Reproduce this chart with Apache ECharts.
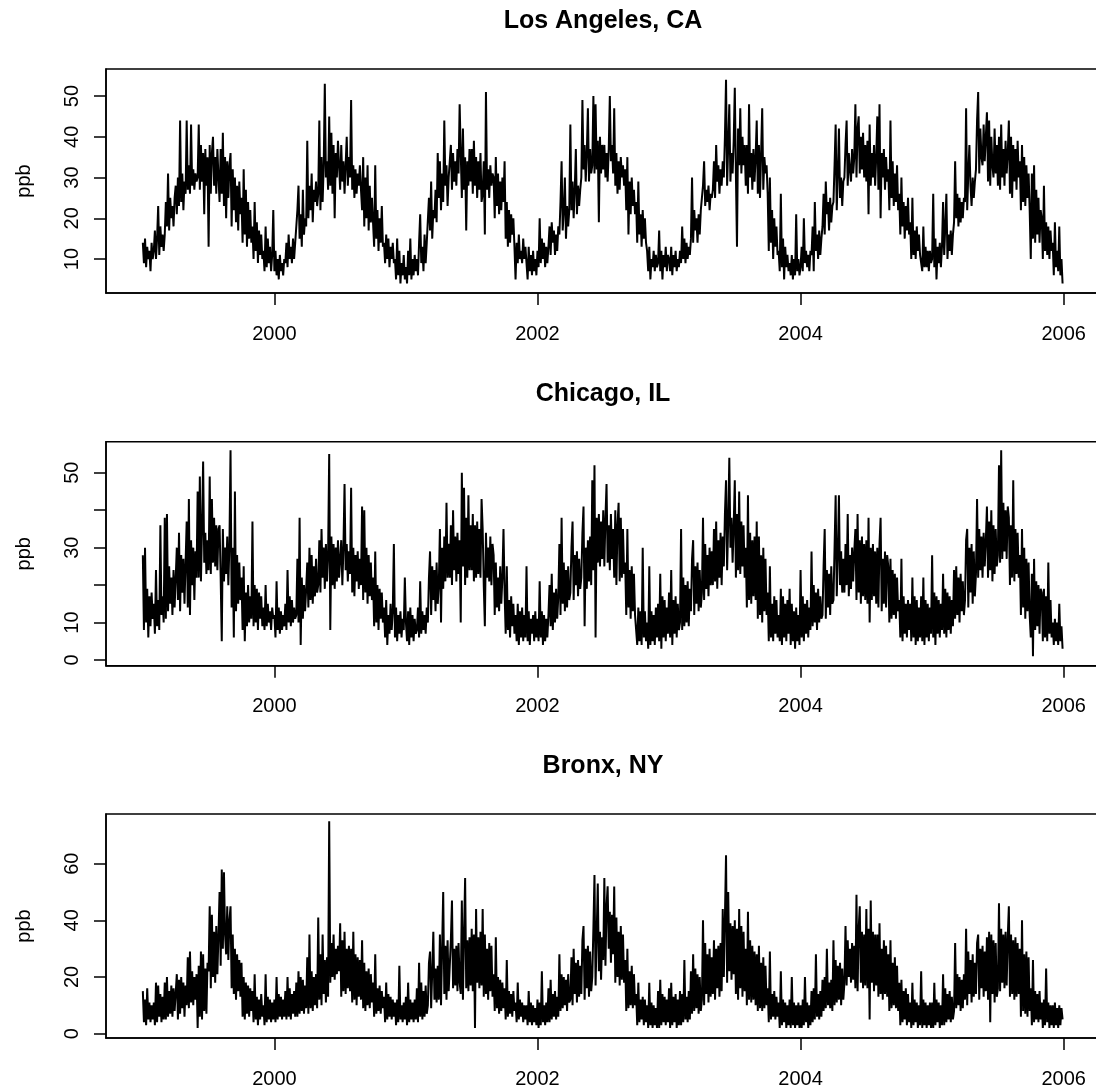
<!DOCTYPE html>
<html>
<head>
<meta charset="utf-8">
<script src="https://cdn.jsdelivr.net/npm/echarts@6/dist/echarts.min.js"></script>
<style>
	html, body { margin: 0; padding: 0; background: #fff; }
	#chart { width: 1096px; height: 1086px; }
</style>
</head>
<body>
<div id="chart"></div>
<script>
// ozone (ppb), 10 values per month, Jan 1999 - Dec 2005, one line per year
const losAngeles = [
	14,9,15,8,13,10,12,7,14,10, 12,17,10,15,23,11,18,13,16,12, 16,24,18,31,17,25,20,23,18,25, 28,21,30,23,44,24,31,22,29,26, 44,27,33,26,43,28,32,27,31,29, 30,43,27,38,29,36,21,37,28,35, 13,38,26,36,40,28,35,26,37,30, 24,37,26,41,23,35,20,34,25,33, 36,18,32,22,30,19,28,17,29,21, 25,14,32,16,27,13,24,15,22,14, 18,10,24,12,19,9,17,11,16,10, 12,7,18,8,15,9,13,7,11,22,
	7,12,6,10,5,11,7,9,6,10, 9,14,8,16,10,13,9,15,10,14, 14,22,28,15,21,13,27,16,20,18, 39,20,28,22,31,19,27,24,29,23, 26,44,22,35,24,33,53,30,34,27, 45,28,41,26,38,20,36,30,39,33, 27,38,29,34,26,33,40,28,35,30, 49,27,33,25,32,26,31,28,33,27, 22,35,18,30,20,33,17,28,19,25, 25,13,33,15,22,12,20,14,23,13, 14,9,16,10,15,8,13,10,14,9, 10,5,15,6,12,4,9,6,11,5,
	8,4,12,6,15,5,10,6,11,7, 10,6,14,21,9,13,7,16,9,14, 14,25,17,29,15,22,20,27,19,36, 25,34,22,31,24,44,28,33,23,30, 30,38,27,36,29,34,28,37,31,48, 36,25,42,27,35,17,34,28,37,29, 37,26,39,28,35,25,34,27,36,24, 26,34,16,51,27,32,25,33,28,31, 30,20,35,23,31,21,29,22,30,24, 34,15,24,13,22,14,21,16,20,13, 5,14,9,16,10,12,9,15,10,13, 9,5,13,7,11,6,12,7,10,6,
	12,8,20,9,15,10,14,8,13,9, 13,18,11,19,14,17,11,16,12,18, 16,24,34,17,22,30,15,23,18,22, 43,22,29,20,27,37,21,28,23,27, 30,49,32,38,29,36,47,29,37,31, 33,50,31,48,32,39,19,40,31,38, 32,38,30,36,29,37,50,34,38,31, 47,28,36,26,34,27,35,30,33,28, 32,22,35,16,29,21,30,23,27,21, 24,14,29,16,21,13,22,15,20,14, 12,7,13,5,10,8,12,7,11,8, 9,17,7,12,5,11,8,13,7,11,
	10,7,13,6,11,8,12,7,10,8, 12,9,18,10,15,9,14,10,13,11, 15,30,14,22,17,20,14,21,16,22, 22,28,34,23,27,24,28,22,26,25, 27,34,25,38,29,33,26,32,28,34, 30,40,54,28,38,48,29,36,31,39, 52,31,13,42,33,47,31,40,33,38, 28,38,26,48,30,36,27,37,29,35, 44,26,38,25,36,47,27,35,31,33, 26,12,30,14,22,10,20,13,18,11, 12,7,26,8,15,5,13,8,11,7, 9,6,11,5,10,6,21,7,10,6,
	8,13,7,20,9,12,8,11,7,12, 11,18,7,24,12,16,10,17,11,15, 18,26,16,29,21,24,17,25,19,23, 24,33,43,22,31,42,25,30,23,29, 30,38,44,28,36,32,29,37,31,35, 48,30,42,45,31,40,32,41,30,38, 29,39,21,43,28,36,30,38,28,35, 45,27,48,20,36,30,37,27,35,29, 32,22,44,25,34,23,31,24,33,22, 26,16,30,18,24,15,23,17,25,16, 19,10,25,11,17,10,18,12,16,11, 11,7,18,8,13,8,12,7,12,9,
	10,26,8,15,5,13,9,14,8,13, 24,11,18,26,10,16,12,17,11,16, 19,34,20,26,18,25,19,24,20,25, 24,47,22,31,38,28,23,30,25,29, 32,44,51,31,42,35,33,43,34,40, 46,29,44,28,40,33,30,42,31,38, 28,40,27,43,30,37,28,39,31,36, 44,26,40,25,38,29,37,27,39,30, 34,22,38,24,35,23,33,25,31,22, 10,31,15,33,14,27,16,25,14,22, 20,10,28,12,19,11,18,10,17,12, 14,6,19,8,12,7,18,6,10,4
];
const chicago = [
	28,8,30,10,19,6,17,9,18,11, 15,7,24,9,16,8,36,12,17,10, 38,11,39,13,25,15,22,12,24,14, 14,30,16,34,13,28,18,27,15,26, 37,14,43,12,32,20,30,16,29,22, 45,22,49,21,35,53,26,34,23,32, 24,49,23,43,26,38,25,36,24,35, 36,22,5,35,21,30,23,33,20,31, 56,14,30,6,45,13,28,15,26,16, 22,8,25,5,18,9,20,10,17,11, 37,9,20,10,19,8,18,11,17,9, 14,8,20,9,15,10,13,8,14,11,
	12,6,21,8,14,7,13,8,12,9, 15,8,24,10,17,9,16,10,14,11, 12,27,10,38,4,22,11,20,13,19, 26,14,30,16,28,15,25,17,27,18, 20,32,18,35,22,30,19,31,21,28, 55,8,33,20,31,19,30,21,32,22, 22,32,20,30,47,24,31,21,29,23, 46,18,30,17,28,21,29,19,27,20, 41,16,40,18,30,15,28,17,26,16, 22,9,29,10,20,8,19,11,18,10, 14,6,16,4,12,7,15,8,13,31, 6,14,5,12,7,13,6,11,8,22,
	10,5,13,4,14,6,12,5,11,7, 8,14,6,21,7,13,8,12,7,14, 10,22,29,12,25,16,24,13,26,15, 20,35,10,30,19,33,21,42,22,31, 22,36,20,40,24,33,21,34,23,32, 10,50,25,46,20,38,22,44,24,36, 24,39,21,36,22,37,23,35,22,43, 35,20,9,34,22,30,21,33,20,31, 28,12,26,14,22,13,25,15,22,35, 18,7,25,8,16,6,17,9,15,7, 12,5,15,4,13,6,14,5,12,6, 25,5,13,4,11,7,12,5,13,6,
	11,5,21,6,13,4,12,5,11,6, 12,20,9,23,8,18,10,19,11,17, 31,12,38,15,26,13,24,14,25,16, 18,30,37,16,28,20,29,17,27,19, 22,34,41,9,30,19,32,21,33,20, 48,24,52,6,38,26,39,25,37,27, 40,25,38,47,26,36,24,39,27,35, 22,40,20,36,42,21,38,22,35,23, 26,12,35,14,24,11,25,13,23,12, 12,4,14,5,13,4,30,6,13,5, 10,3,25,4,13,5,12,4,14,6, 15,5,23,3,17,6,16,5,14,7,
	18,6,24,4,16,7,17,6,15,8, 10,35,8,22,9,20,10,21,9,19, 13,27,32,12,25,15,26,13,24,14, 18,38,16,31,19,28,17,30,20,29, 20,35,21,37,19,32,22,34,20,33, 25,39,48,24,37,54,30,38,26,36, 48,22,39,24,45,23,37,25,36,22, 30,14,44,16,34,15,32,17,33,16, 37,11,33,12,28,10,30,13,27,12, 18,5,25,6,15,5,17,7,16,6, 12,5,19,4,17,6,15,5,16,7, 19,4,15,5,13,3,14,5,12,4,
	24,6,17,5,15,7,16,6,14,8, 29,9,20,10,18,8,19,10,17,11, 12,25,35,11,24,14,23,12,25,15, 16,30,44,17,28,44,20,29,18,27, 18,31,20,39,17,28,19,30,21,29, 35,16,39,18,32,15,33,17,31,16, 32,15,38,10,30,16,31,17,29,15, 30,14,31,38,13,27,15,29,14,28, 25,10,27,11,24,12,23,11,22,13, 16,6,27,5,17,7,15,6,16,8, 15,5,22,6,17,4,16,5,14,6, 17,5,22,4,16,6,15,5,14,7,
	28,6,18,4,17,7,16,6,15,8, 23,7,19,6,18,8,17,7,16,9, 24,11,25,12,22,10,23,13,21,12, 16,32,35,14,30,18,31,15,29,17, 23,43,22,35,24,33,22,34,25,32, 41,22,37,24,40,21,36,23,35,25, 28,52,26,56,27,42,29,40,27,41, 38,20,36,22,48,21,35,23,34,22, 28,12,35,14,30,11,27,13,26,12, 6,23,1,27,8,21,9,20,7,19, 18,5,19,6,17,5,26,7,16,6, 10,4,11,5,10,4,15,5,9,3
];
const bronx = [
	15,4,12,3,16,5,11,4,10,5, 11,3,18,4,17,6,14,4,13,5, 18,5,20,6,15,7,17,6,16,8, 8,21,5,19,7,20,9,18,6,17, 10,27,9,29,11,22,10,20,12,21, 2,24,6,29,5,28,8,23,7,25, 22,45,16,42,20,36,18,38,21,35, 50,24,58,30,57,35,28,45,26,40, 45,16,35,14,30,12,28,15,26,13, 25,6,20,5,18,7,17,6,16,8, 15,4,21,5,13,3,12,5,14,6, 10,3,21,4,13,5,12,4,11,5,
	12,4,20,5,14,6,13,5,12,6, 15,5,20,6,16,5,14,7,15,6, 18,6,22,7,20,8,19,7,17,9, 27,7,35,9,22,8,20,10,21,9, 41,12,28,10,35,14,26,11,27,13, 75,18,32,20,35,19,30,21,31,22, 39,13,33,15,36,14,30,16,31,15, 30,11,36,12,28,10,27,13,26,12, 33,9,25,8,22,10,23,9,21,11, 18,6,28,7,16,8,17,7,15,9, 13,4,18,5,14,6,13,5,12,6, 11,3,12,4,24,5,10,4,11,5,
	13,3,18,4,12,5,11,4,12,5, 16,4,25,6,18,5,15,6,17,7, 10,25,29,9,22,36,12,23,11,24, 12,35,10,30,50,14,31,12,33,15, 15,33,47,16,30,17,31,15,32,18, 14,47,12,35,55,16,33,15,34,17, 37,15,35,2,44,18,34,16,36,17, 44,13,35,14,30,12,32,15,31,13, 21,8,34,9,20,7,19,8,18,9, 16,5,26,6,15,7,14,6,15,8, 11,4,18,5,12,6,11,4,10,5, 10,3,15,4,11,3,10,4,9,3,
	12,2,11,3,22,4,10,3,11,4, 16,4,19,5,14,6,15,5,13,6, 28,8,21,9,20,10,19,8,21,11, 12,27,10,30,14,25,11,26,13,24, 14,33,38,12,30,16,31,13,29,15, 20,37,56,17,35,53,22,36,19,34, 26,55,24,45,52,30,43,25,42,28, 52,18,41,20,36,17,38,19,35,18, 26,8,30,9,22,10,24,9,21,10, 14,3,18,4,12,5,13,3,12,4, 10,2,18,3,11,2,10,3,9,2, 15,2,19,3,14,4,13,3,12,4,
	16,2,18,3,13,4,14,2,12,3, 15,3,14,4,26,5,13,4,15,5, 22,7,28,8,23,9,21,7,20,8, 12,40,10,32,14,28,11,30,13,27, 14,33,12,30,16,31,13,32,15,44, 20,41,63,18,50,22,39,19,38,21, 40,14,37,12,44,16,38,13,36,15, 30,10,43,12,33,11,31,12,29,10, 28,8,31,9,25,8,27,9,24,10, 16,4,29,5,14,6,15,5,13,6, 11,2,22,3,12,4,11,2,10,3, 12,2,20,3,11,2,10,3,11,2,
	10,2,12,3,20,4,11,2,10,3, 15,4,16,5,28,6,14,5,15,6, 19,8,20,9,30,10,18,9,19,8, 33,10,26,11,24,12,25,10,23,12, 18,38,17,33,20,30,18,32,19,31, 16,49,15,37,45,18,36,16,35,17, 44,16,37,5,47,18,36,15,35,17, 35,13,39,14,30,12,33,14,31,13, 28,8,33,9,25,10,27,9,24,8, 18,3,19,4,15,5,16,3,14,4, 11,2,18,3,12,4,11,2,10,3, 22,2,12,3,11,2,10,3,11,2,
	11,2,18,3,12,4,11,2,10,3, 21,3,16,4,14,5,15,4,13,5, 8,32,9,21,10,20,8,19,9,21, 12,37,10,29,14,26,11,28,13,25, 14,32,35,12,30,16,31,13,29,15, 34,12,36,4,35,14,33,11,32,13, 16,46,15,37,18,35,16,36,17,34, 45,13,35,14,33,12,34,13,32,14, 30,6,40,8,28,7,29,6,27,8, 16,3,26,4,15,5,14,4,15,5, 11,2,12,3,23,4,11,2,10,3, 10,2,11,3,9,2,10,3,9,5
];

const titles = ["Los Angeles, CA", "Chicago, IL", "Bronx, NY"];
const yearTicks = [2000, 2002, 2004, 2006];
const yTicks = [[10, 20, 30, 40, 50], [0, 10, 20, 30, 40, 50], [0, 20, 40, 60]];
const yLabels = [[10, 20, 30, 40, 50], [0, 10, 30, 50], [0, 20, 40, 60]];
const yRange = [[1.66, 56.63], [-1.52, 58.29], [-1.55, 77.57]];

const FONT = "'Liberation Sans', Arial, Helvetica, sans-serif";
const gridTops = [69, 441.7, 814];
const PER_YEAR = 120;

function toPoints(vals) {
	// samples are evenly spaced from 1999-01-01
	return vals.map((v, i) => [1999 + i / PER_YEAR, v]);
}

const seriesData = [losAngeles, chicago, bronx];

const chart = echarts.init(document.getElementById("chart"), null, { renderer: "canvas" });

const options = {
	animation: false,
	backgroundColor: "#fff",
	title: titles.map((t, i) => ({
		text: t,
		left: 603,
		top: gridTops[i] - 60,
		padding: 0,
		textAlign: "center",
		textStyle: { fontFamily: FONT, fontSize: 25, fontWeight: "bold", color: "#000" },
	})),
	grid: gridTops.map((top) => ({
		left: 106,
		top: top,
		width: 994.5,
		height: 224,
		show: true,
		borderColor: "#000",
		borderWidth: 1.5,
		backgroundColor: "transparent",
		containLabel: false,
		outerBoundsMode: "none",
	})),
	xAxis: gridTops.map((_, i) => ({
		gridIndex: i,
		type: "value",
		min: 1998.72,
		max: 2006.28,
		splitLine: { show: false },
		axisLine: { show: true, onZero: false, lineStyle: { color: "#000", width: 1.5 } },
		axisTick: { show: true, customValues: yearTicks, length: 12, lineStyle: { color: "#000", width: 1.5 } },
		axisLabel: {
			customValues: yearTicks,
			formatter: (v) => String(v),
			margin: 31,
			color: "#000",
			fontSize: 20,
			fontFamily: FONT,
		},
	})),
	yAxis: gridTops.map((_, i) => ({
		gridIndex: i,
		type: "value",
		min: yRange[i][0],
		max: yRange[i][1],
		name: "ppb",
		nameLocation: "middle",
		nameRotate: 90,
		nameGap: 72,
		nameTextStyle: { fontFamily: FONT, fontSize: 20, color: "#000" },
		splitLine: { show: false },
		axisLine: { show: true, onZero: false, lineStyle: { color: "#000", width: 1.5 } },
		axisTick: { show: true, customValues: yTicks[i], length: 12, lineStyle: { color: "#000", width: 1.5 } },
		axisLabel: {
			customValues: yLabels[i],
			formatter: (v) => String(v),
			rotate: 90,
			margin: 24,
			color: "#000",
			fontSize: 20,
			fontFamily: FONT,
		},
	})),
	series: seriesData.map((vals, i) => ({
		name: titles[i],
		type: "line",
		xAxisIndex: i,
		yAxisIndex: i,
		data: toPoints(vals),
		showSymbol: false,
		symbol: "none",
		silent: true,
		lineStyle: { color: "#000", width: 2 },
	})),
};

chart.setOption(options);
</script>
</body>
</html>
